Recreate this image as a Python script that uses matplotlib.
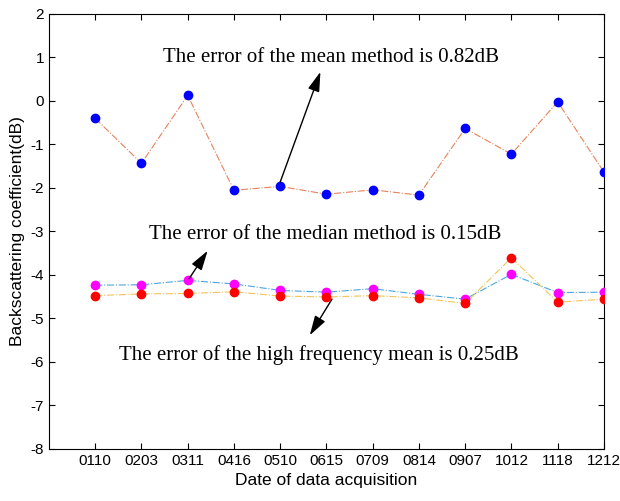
import matplotlib
matplotlib.use("Agg")
import matplotlib.pyplot as plt
import numpy as np

plt.rcParams['axes.unicode_minus'] = False

dates = ["0110", "0203", "0311", "0416", "0510", "0615", "0709", "0814", "0907", "1012", "1118", "1212"]
mean_method = [-0.41, -1.44, 0.12, -2.06, -1.97, -2.15, -2.05, -2.17, -0.64, -1.23, -0.03, -1.64]
median_method = [-4.24, -4.23, -4.13, -4.21, -4.36, -4.40, -4.32, -4.45, -4.56, -3.99, -4.41, -4.40]
high_freq_mean = [-4.48, -4.44, -4.43, -4.39, -4.49, -4.51, -4.48, -4.53, -4.66, -3.61, -4.63, -4.56]

x = np.arange(1, len(dates) + 1)

fig = plt.figure(figsize=(6.2, 5.01), dpi=100)
ax = fig.add_axes([0.079, 0.104, 0.895, 0.869])

ax.plot(x, mean_method, linestyle='-.', color='#E8825A', lw=0.8, zorder=2)
ax.plot(x, mean_method, linestyle='none', marker='o', ms=6, color='#0000FF', zorder=3)
ax.plot(x, median_method, linestyle='-.', color='#4DA6E0', lw=0.8, zorder=2)
ax.plot(x, high_freq_mean, linestyle='-.', color='#F2C45A', lw=0.8, zorder=2)
ax.plot(x, median_method, linestyle='none', marker='o', ms=6, color='#FF00FF', zorder=3)
ax.plot(x, high_freq_mean, linestyle='none', marker='o', ms=6, color='#FF0000', zorder=4)

ax.set_xlim(0, 12)
ax.set_ylim(-8, 2)
ax.set_xticks(x)
ax.set_xticklabels(dates)
ax.set_yticks(np.arange(-8, 3, 1))
ax.tick_params(direction='in', top=True, right=True, length=4, width=0.8, labelsize=11)
for lab in ax.get_xticklabels() + ax.get_yticklabels():
    lab.set_fontfamily('Liberation Sans')
for s in ax.spines.values():
    s.set_linewidth(0.8)

ax.set_xlabel("Date of data acquisition", fontsize=12.5, family='Liberation Sans')
ax.set_ylabel("Backscattering coefficient(dB)", fontsize=12.5, family='Liberation Sans')

serif = dict(fontsize=15, family='Liberation Serif', ha='center', va='center')
ax.text(6.1, 0.99, "The error of the mean method is 0.82dB", **serif)
ax.text(5.97, -3.07, "The error of the median method is 0.15dB", **serif)
ax.text(5.83, -5.85, "The error of the high frequency mean is 0.25dB", **serif)

ap = dict(arrowstyle='-|>,head_length=1.0,head_width=0.3', color='k', lw=1,
          shrinkA=0, shrinkB=0, mutation_scale=12)
ax.annotate("", xy=(5.87, 0.66), xytext=(5.0, -1.87), arrowprops=ap)
ax.annotate("", xy=(3.43, -3.45), xytext=(3.03, -4.09), arrowprops=ap)
ax.annotate("", xy=(5.64, -5.39), xytext=(6.12, -4.56), arrowprops=ap)

fig.savefig("out.png", dpi=100)
